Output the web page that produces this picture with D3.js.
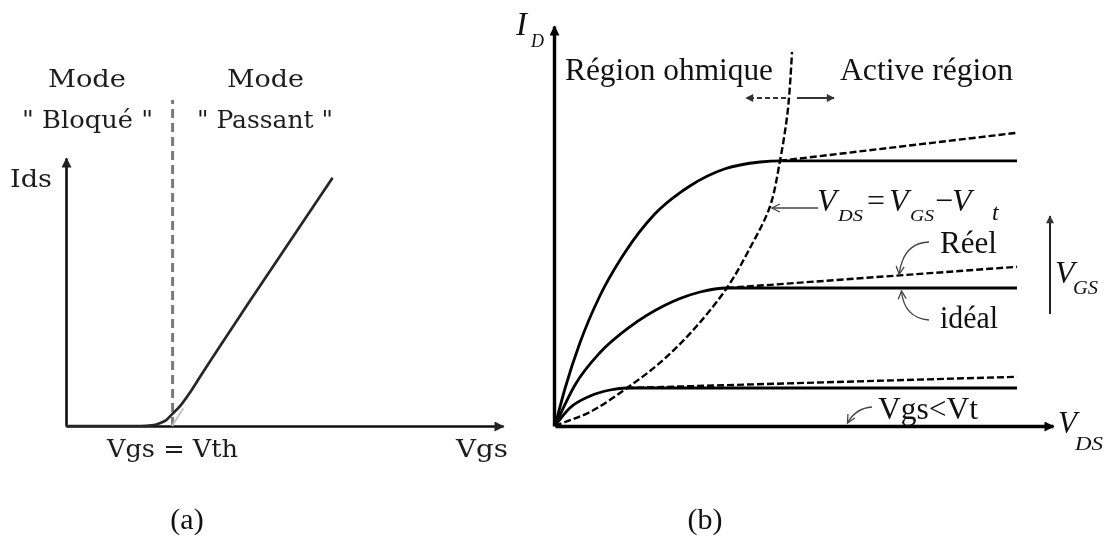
<!DOCTYPE html>
<html>
<head>
<meta charset="utf-8">
<script src="https://cdn.jsdelivr.net/npm/d3@7"></script>
<style>
  html, body { margin: 0; padding: 0; background: #fff; }
  svg { display: block; }
</style>
</head>
<body>
<svg id="chart" width="1107" height="538"></svg>
<script>
// ---------- (a) transfer characteristic Ids(Vgs) ----------
const vgsA = [0, 1.39, 1.61, 1.76, 1.88, 2.0, 2.14, 2.33, 2.51, 3.45, 5.0];
const idsA = [0, 0, 0.01, 0.05, 0.11, 0.23, 0.37, 0.63, 0.91, 2.33, 4.63];
const vth = 2.0;
const modeLabels = ["Mode", "Mode"];
const modeNames = ["\" Bloqué \"", "\" Passant \""];

// ---------- (b) output characteristics Id(Vds) ----------
const vdsHigh = [0, 0.22, 0.54, 0.97, 1.52, 2.16, 2.92, 3.68, 4.44, 4.87, 10];
const idHigh  = [0, 0.95, 2.08, 3.25, 4.35, 5.3, 6.0, 6.43, 6.6, 6.63, 6.63];
const vdsMid  = [0, 0.43, 0.97, 1.62, 2.38, 3.14, 3.72, 10];
const idMid   = [0, 1.02, 1.83, 2.48, 3.02, 3.35, 3.45, 3.45];
const vdsLow  = [0, 0.32, 0.76, 1.19, 1.56, 10];
const idLow   = [0, 0.45, 0.75, 0.9, 0.95, 0.95];
// channel-length modulation (real curves beyond saturation)
const vdsRealHigh = [4.87, 10], idRealHigh = [6.63, 7.33];
const vdsRealMid  = [3.72, 10], idRealMid  = [3.45, 3.98];
const vdsRealLow  = [1.56, 10], idRealLow  = [0.95, 1.23];
// saturation boundary Vds = Vgs - Vt
const vdsSat = [0, 0.22, 0.76, 1.56, 2.34, 3.03, 3.72, 4.22, 4.65, 4.87, 5.04, 5.13];
const idSat  = [0, 0.1, 0.35, 0.95, 1.65, 2.45, 3.45, 4.45, 5.48, 6.63, 7.9, 9.35];

const zip = (xs, ys) => xs.map((x, i) => [x, ys[i]]);

const svg = d3.select("#chart");
svg.append("rect").attr("width", 1107).attr("height", 538).attr("fill", "#fff");

const defs = svg.append("defs");
function filledHead(id, w, h, color) {
  defs.append("marker").attr("id", id)
    .attr("viewBox", "0 0 10 10").attr("refX", 9).attr("refY", 5)
    .attr("markerUnits", "userSpaceOnUse")
    .attr("markerWidth", w).attr("markerHeight", h)
    .attr("orient", "auto")
    .append("path").attr("d", "M0,0L10,5L0,10Z").attr("fill", color);
}
filledHead("headA", 12, 10, "#222");
filledHead("headB", 13, 10, "#000");
filledHead("headS", 11, 8, "#333");
defs.append("marker").attr("id", "openHead")
  .attr("viewBox", "0 0 10 10").attr("refX", 9).attr("refY", 5)
  .attr("markerUnits", "userSpaceOnUse")
  .attr("markerWidth", 10).attr("markerHeight", 10)
  .attr("orient", "auto")
  .append("path").attr("d", "M1,1L9,5L1,9").attr("fill", "none")
  .attr("stroke", "#444").attr("stroke-width", 1.3);
defs.append("filter").attr("id", "soft")
  .append("feGaussianBlur").attr("stdDeviation", 0.45);

// ================= panel (a) =================
const xA = d3.scaleLinear().domain([0, 8.2]).range([66, 503]);
const yA = d3.scaleLinear().domain([0, 5]).range([426, 158]);
const gA = svg.append("g").attr("filter", "url(#soft)");

const axA_x = gA.append("g").attr("transform", `translate(0,${yA(0)})`)
  .call(d3.axisBottom(xA).tickValues([]).tickSizeOuter(0));
axA_x.select(".domain").attr("stroke", "#111").attr("stroke-width", 2.6)
  .attr("marker-end", "url(#headA)");
const axA_y = gA.append("g").attr("transform", `translate(${xA(0)},0)`)
  .call(d3.axisLeft(yA).tickValues([]).tickSizeOuter(0));
axA_y.select(".domain").attr("stroke", "#111").attr("stroke-width", 2.6)
  .attr("marker-end", "url(#headA)");

// threshold marker
gA.append("line")
  .attr("x1", xA(vth)).attr("x2", xA(vth))
  .attr("y1", yA(0)).attr("y2", yA(6.08))
  .attr("stroke", "#7a7a7a").attr("stroke-width", 3)
  .attr("stroke-dasharray", "9,5");
// faint tangent at threshold
gA.append("line")
  .attr("x1", xA(1.99)).attr("y1", yA(0))
  .attr("x2", xA(2.2)).attr("y2", yA(0.33))
  .attr("stroke", "#c4c4c4").attr("stroke-width", 2);

gA.append("path")
  .datum(zip(vgsA, idsA))
  .attr("fill", "none").attr("stroke", "#262626").attr("stroke-width", 2.7)
  .attr("d", d3.line().x(d => xA(d[0])).y(d => yA(d[1])).curve(d3.curveMonotoneX));

const fA = "'DejaVu Serif', serif";
function txt(g, s, x, y, opts = {}) {
  const t = g.append("text").attr("x", x).attr("y", y).text(s)
    .attr("font-family", opts.family || fA)
    .attr("font-size", opts.size || 25)
    .attr("fill", opts.color || "#1e1e1e")
    .attr("text-anchor", opts.anchor || "start");
  if (opts.italic) t.attr("font-style", "italic");
  if (opts.len) t.attr("textLength", opts.len).attr("lengthAdjust", "spacingAndGlyphs");
  return t;
}
txt(gA, modeLabels[0], 48, 87, { len: 78 });
txt(gA, modeNames[0], 22, 128, { len: 131 });
txt(gA, modeLabels[1], 227, 87, { len: 77 });
txt(gA, modeNames[1], 197, 128, { len: 136 });
txt(gA, "Ids", 10, 187, { len: 42 });
txt(gA, "Vgs = Vth", 107, 457, { len: 131 });
txt(gA, "Vgs", 456, 457, { len: 52 });

// ================= panel (b) =================
const xB = d3.scaleLinear().domain([0, 10]).range([555, 1017]);
const yB = d3.scaleLinear().domain([0, 10]).range([426, 26]);
const xBAxis = xB.copy().domain([0, xB.invert(1053)]).range([555, 1053]);
const gB = svg.append("g");
const lineB = d3.line().x(d => xB(d[0])).y(d => yB(d[1]));
const curveB = d3.line().x(d => xB(d[0])).y(d => yB(d[1])).curve(d3.curveMonotoneX);

const axB_x = gB.append("g").attr("transform", `translate(0,${yB(0)})`)
  .call(d3.axisBottom(xBAxis).tickValues([]).tickSizeOuter(0));
axB_x.select(".domain").attr("stroke", "#000").attr("stroke-width", 3.4)
  .attr("marker-end", "url(#headB)");
const axB_y = gB.append("g").attr("transform", `translate(${xB(0) - 1},0)`)
  .call(d3.axisLeft(yB).tickValues([]).tickSizeOuter(0));
axB_y.select(".domain").attr("stroke", "#000").attr("stroke-width", 3.4)
  .attr("marker-end", "url(#headB)");

// ideal curves
[[vdsHigh, idHigh], [vdsMid, idMid], [vdsLow, idLow]].forEach(([xs, ys]) => {
  gB.append("path").datum(zip(xs, ys))
    .attr("fill", "none").attr("stroke", "#000").attr("stroke-width", 2.8)
    .attr("d", curveB);
});
// real curves
[[vdsRealHigh, idRealHigh], [vdsRealMid, idRealMid], [vdsRealLow, idRealLow]].forEach(([xs, ys]) => {
  gB.append("path").datum(zip(xs, ys))
    .attr("fill", "none").attr("stroke", "#000").attr("stroke-width", 2.4)
    .attr("stroke-dasharray", "7,3")
    .attr("d", lineB);
});
// saturation boundary
gB.append("path").datum(zip(vdsSat, idSat))
  .attr("fill", "none").attr("stroke", "#000").attr("stroke-width", 2.4)
  .attr("stroke-dasharray", "7,3")
  .attr("d", d3.line().x(d => xB(d[0])).y(d => yB(d[1])).curve(d3.curveCatmullRom));

const fB = "'Liberation Serif', 'Times New Roman', serif";
const tB = (s, x, y, o = {}) => txt(gB, s, x, y, Object.assign({ family: fB, size: 31, color: "#111" }, o));

// region labels and arrows
tB("Région ohmique", 565, 80, { len: 208 });
tB("Active région", 840, 80, { len: 173 });
gB.append("line").attr("x1", 786).attr("y1", 98).attr("x2", 746).attr("y2", 98)
  .attr("stroke", "#333").attr("stroke-width", 1.8).attr("stroke-dasharray", "5,3")
  .attr("marker-end", "url(#headS)");
gB.append("line").attr("x1", 797).attr("y1", 98).attr("x2", 834).attr("y2", 98)
  .attr("stroke", "#333").attr("stroke-width", 1.8)
  .attr("marker-end", "url(#headS)");

// axis titles
tB("I", 516, 35, { italic: true, size: 33 });
tB("D", 531, 47, { italic: true, size: 18 });
tB("V", 1058, 433, { italic: true, size: 31 });
tB("DS", 1075, 450, { italic: true, size: 19, len: 28 });

// Vds = Vgs - Vt label with pointer to the boundary
const satPt = [4.65, 5.45];
gB.append("line")
  .attr("x1", 818).attr("y1", yB(satPt[1]))
  .attr("x2", xB(satPt[0]) + 2).attr("y2", yB(satPt[1]))
  .attr("stroke", "#444").attr("stroke-width", 1.3)
  .attr("marker-end", "url(#openHead)");
tB("V", 817, 211, { italic: true, size: 32 });
tB("DS", 838, 221, { italic: true, size: 17, len: 25 });
tB("=", 867, 211, { size: 32 });
tB("V", 889, 211, { italic: true, size: 32 });
tB("GS", 910, 221, { italic: true, size: 17, len: 24 });
tB("\u2212", 935, 211, { size: 32 });
tB("V", 952, 211, { italic: true, size: 32 });
tB("t", 992, 220, { italic: true, size: 24 });

// Vgs direction arrow
gB.append("line").attr("x1", 1050).attr("y1", 314).attr("x2", 1050).attr("y2", 216)
  .attr("stroke", "#222").attr("stroke-width", 2)
  .attr("marker-end", "url(#headS)");
tB("V", 1055, 283, { italic: true, size: 32 });
tB("GS", 1073, 294, { italic: true, size: 18, len: 25 });

// curved pointers
function pointer(x0, y0, cx, cy, x1, y1) {
  const p = d3.path();
  p.moveTo(x0, y0);
  p.quadraticCurveTo(cx, cy, x1, y1);
  gB.append("path").attr("d", p.toString())
    .attr("fill", "none").attr("stroke", "#444").attr("stroke-width", 1.3)
    .attr("marker-end", "url(#openHead)");
}
const realPt = [7.45, 3.45 + (7.45 - 3.72) / (10 - 3.72) * (3.98 - 3.45)];
pointer(929, 242, 903, 243, xB(realPt[0]), yB(realPt[1]) - 1);
const idealPt = [7.5, 3.45];
pointer(929, 320, 904, 318, xB(idealPt[0]), yB(idealPt[1]) + 3);
const offPt = [6.33, 0];
pointer(872, 407, 856, 408, xB(offPt[0]), yB(offPt[1]) - 3);

tB("Réel", 940, 253, { len: 57 });
tB("idéal", 940, 328, { len: 58 });
tB("Vgs<Vt", 878, 419, { len: 100 });

// panel captions
txt(svg, "(a)", 187, 529, { family: fB, size: 30, anchor: "middle", color: "#111" });
txt(svg, "(b)", 705, 529, { family: fB, size: 30, anchor: "middle", color: "#111" });
</script>
</body>
</html>
